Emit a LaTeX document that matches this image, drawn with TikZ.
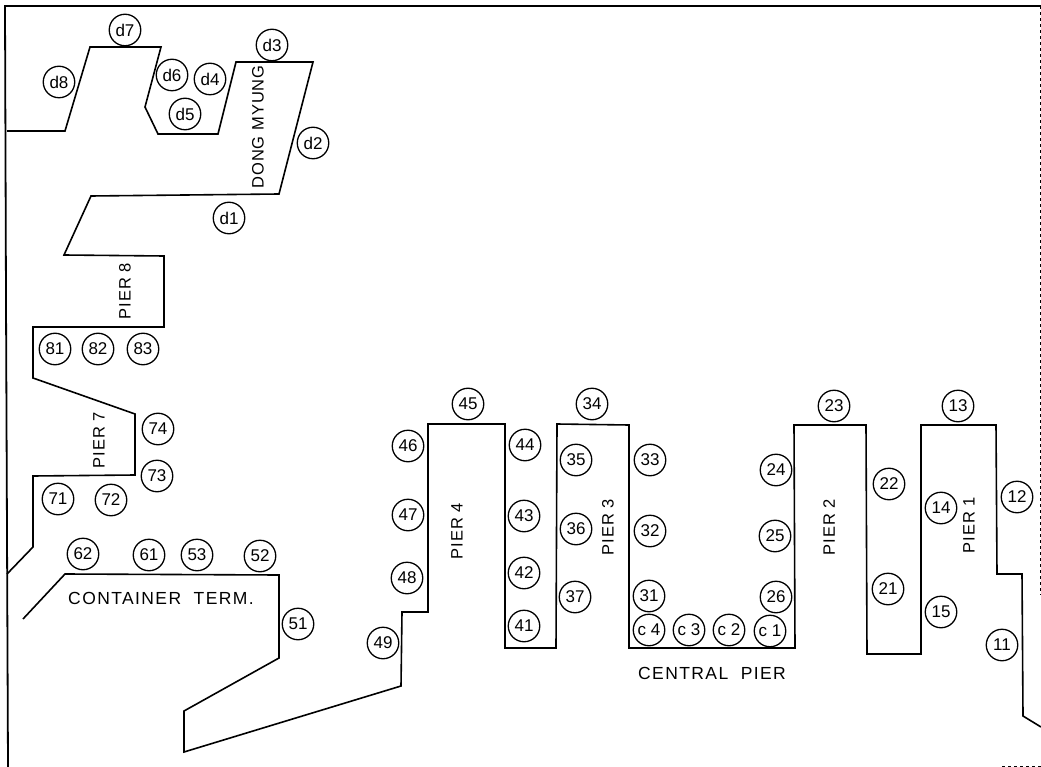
\documentclass[tikz,border=0pt]{standalone}
\usepackage{fontspec}
\setmainfont{Liberation Sans}
\newfontfamily\lblfont[LetterSpace=6]{Liberation Sans}
\newfontfamily\longfont[LetterSpace=8]{Liberation Sans}
\tikzset{
  berth/.style={circle,draw=black,line width=1.3pt,minimum size=31.5pt,inner sep=0pt,font=\fontsize{17}{18}\selectfont},
  shore/.style={draw=black,line width=1.6pt,line join=miter},
  frameline/.style={draw=black,line width=1.8pt},
  pierlbl/.style={font=\lblfont\fontsize{16.5}{17}\selectfont,inner sep=0pt,rotate=90},
  wide/.style={font=\longfont\fontsize{17.5}{18}\selectfont,inner sep=0pt}
}
\begin{document}
\begin{tikzpicture}[x=1pt,y=-1pt]
\useasboundingbox[fill=white] (0,0) rectangle (1041,767);
% frame
\draw[frameline] (1041,6) -- (5,6) -- (6,300) -- (8,767);
\draw[black,line width=0.8pt,dashed] (1040,6) -- (1040,595);
\draw[black,line width=0.8pt,dashed] (1002,766) -- (1041,766);
% shoreline
\draw[shore] (7,131) -- (65,131) -- (90,47) -- (161,47) -- (145,107) -- (158,134) -- (218,134) -- (236,62) -- (313,62) -- (279,194) -- (91,196) -- (64,255) -- (164,256) -- (164,327) -- (33,327) -- (33,378) -- (135,414) -- (135,475) -- (33,476) -- (33,547) -- (7,574);
\draw[shore] (23,619) -- (65,574) -- (279,575) -- (279,658) -- (184,711) -- (184,752) -- (401,686) -- (402,612) -- (428,612) -- (428,424) -- (505,424) -- (505,648) -- (556,648) -- (557,424) -- (629,425) -- (629,648) -- (795,648) -- (794,425) -- (866,425) -- (867,654) -- (921,654) -- (921,425) -- (996,425) -- (997,574) -- (1022,574) -- (1023,716) -- (1041,727);
% berths
\foreach \n/\t/\x/\y in {
 d7/d7/125/30, d3/d3/272/45, d6/d6/172/75, d4/d4/210/79, d5/d5/185/114, d8/d8/59/82, d2/d2/313/143, d1/d1/229/218,
 b81/81/55/349, b82/82/98/349, b83/83/143/349, b74/74/158/429, b73/73/157/476, b71/71/58/499, b72/72/111/500,
 b62/62/83/554, b61/61/149/555, b53/53/197/555, b52/52/260/556, b51/51/298/624, b48/48/407/578, b49/49/383/643,
 b45/45/468/404, b34/34/592/404, b46/46/408/446, b44/44/525/445, b35/35/576/460, b33/33/650/460,
 b47/47/408/515, b43/43/524/516, b36/36/576/529, b32/32/650/531, b42/42/524/573, b37/37/575/597, b31/31/649/596, b41/41/524/626,
 c4/c 4/649/630, c3/c 3/689/630, c2/c 2/729/630, c1/c 1/770/631,
 b26/26/776/597, b25/25/775/536, b24/24/776/470, b23/23/834/406, b22/22/889/484, b14/14/941/508, b21/21/888/589, b15/15/941/612, b13/13/958/406, b12/12/1017/497, b11/11/1002/645}
 {\node[berth] (\n) at (\x,\y) {\t};}
% labels
\node[pierlbl] (p4) at (457,531) {PIER 4};
\node[pierlbl] (p3) at (608,527) {PIER 3};
\node[pierlbl] (p2) at (829,527) {PIER 2};
\node[pierlbl] (p1) at (969,525) {PIER 1};
\node[pierlbl] (p8) at (125,291) {PIER 8};
\node[pierlbl] (p7) at (99,440) {PIER 7};
\node[pierlbl] (dm) at (258,127) {DONG MYUNG};
\node[wide] (ct) at (161,598) {CONTAINER\ \ TERM.};
\node[wide] (cp) at (712,673) {CENTRAL\ \ PIER};
\end{tikzpicture}
\end{document}
